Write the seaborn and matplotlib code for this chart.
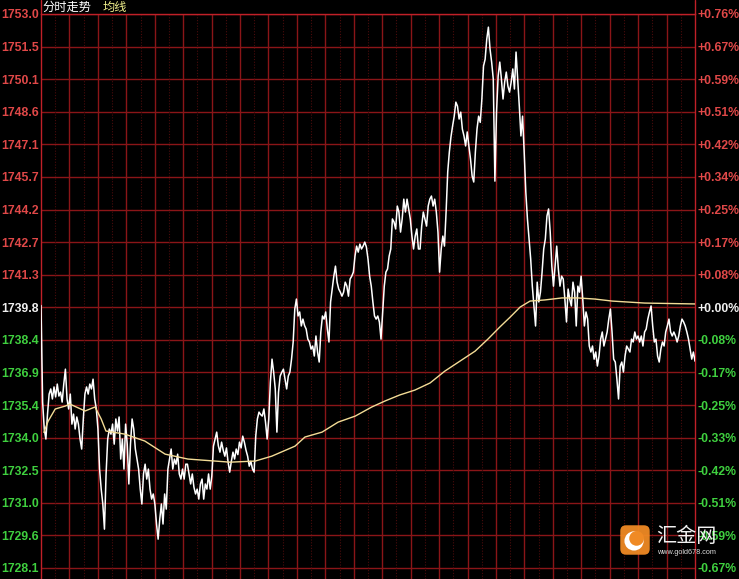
import numpy as np
import matplotlib
matplotlib.use("Agg")
import matplotlib.pyplot as plt
import seaborn as sns
from matplotlib.patches import FancyBboxPatch, Circle
from matplotlib.lines import Line2D

# previous close and grid step of the price axis
prev_close = 1739.82
price_step = 1.4645
session_minutes = 1380  # 23 hour trading day

price_labels = ['1753.0', '1751.5', '1750.1', '1748.6', '1747.1', '1745.7', '1744.2',
                '1742.7', '1741.3', '1739.8', '1738.4', '1736.9', '1735.4', '1734.0',
                '1732.5', '1731.0', '1729.6', '1728.1']
pct_labels = ['+0.76%', '+0.67%', '+0.59%', '+0.51%', '+0.42%', '+0.34%', '+0.25%',
              '+0.17%', '+0.08%', '+0.00%', '-0.08%', '-0.17%', '-0.25%', '-0.33%',
              '-0.42%', '-0.51%', '-0.59%', '-0.67%']

price = [
    1739.9, 1735.56, 1734.35, 1733.90, 1735.02, 1735.92, 1736.15, 1735.70, 1736.24,
    1735.79, 1736.37, 1735.83, 1736.01, 1735.56, 1736.37, 1737.04, 1735.70, 1735.25, 1735.92,
    1734.57, 1735.02, 1734.35, 1734.89, 1734.57, 1733.90, 1733.45, 1734.80, 1735.92, 1736.24,
    1735.92, 1736.37, 1736.15, 1736.59, 1735.70, 1735.25, 1734.35, 1732.55, 1731.65, 1730.98,
    1729.85, 1732.33, 1733.90, 1734.35, 1734.12, 1734.57, 1733.67, 1734.80, 1734.26, 1734.89,
    1733.00, 1733.90, 1732.55, 1734.57, 1733.67, 1731.88, 1733.67, 1734.80, 1734.35, 1733.45,
    1733.00, 1732.55, 1731.65, 1730.98, 1732.33, 1732.77, 1732.10, 1732.55, 1731.65, 1731.20,
    1731.43, 1730.98, 1730.08, 1729.40, 1730.30, 1730.98, 1730.08, 1731.43, 1730.75, 1732.55,
    1733.00, 1733.45, 1732.55, 1733.00, 1732.77, 1733.22, 1732.33, 1732.10, 1732.55, 1732.10,
    1732.77, 1732.77, 1732.33, 1731.88, 1732.33, 1731.74, 1731.43, 1731.65, 1731.20, 1731.88,
    1732.10, 1731.20, 1731.88, 1731.65, 1732.33, 1731.65,
    # afternoon
    1732.24, 1733.58, 1733.90, 1734.21, 1733.60, 1733.31, 1733.76, 1733.40, 1733.13, 1733.50,
    1732.86, 1732.41, 1732.90, 1733.31, 1733.00, 1733.45, 1733.20, 1733.76, 1733.50, 1734.03,
    1733.76, 1733.40, 1733.13, 1732.68, 1732.90, 1732.55, 1732.41, 1734.03, 1734.80, 1735.11,
    1735.00, 1734.93, 1735.25, 1734.66, 1733.90, 1734.80, 1736.46, 1737.49, 1736.91, 1736.15,
    1734.21, 1736.01, 1736.73, 1736.90, 1737.04, 1736.59, 1736.15, 1736.73, 1736.91, 1737.49,
    1738.26, 1739.74, 1740.19, 1739.43, 1739.61, 1738.98, 1739.29, 1739.00, 1738.84, 1738.39,
    1738.26, 1737.94, 1738.08, 1737.63, 1738.53, 1737.81, 1737.36, 1738.71, 1739.43, 1739.29,
    1739.61, 1738.84, 1738.26, 1740.06, 1740.64, 1741.22, 1741.67, 1740.95, 1740.64, 1740.50,
    1740.32, 1740.50, 1740.95, 1740.77, 1740.32, 1741.09, 1741.22, 1741.40, 1742.12, 1742.57,
    1742.30, 1742.66, 1742.44, 1742.57, 1742.75, 1742.53, 1741.99, 1741.22, 1740.77, 1740.06,
    1739.43, 1739.29, 1739.43, 1739.16, 1738.39, 1739.61,
    # evening
    1740.77, 1741.40, 1741.54, 1742.12, 1742.44, 1743.79, 1743.65, 1743.34, 1744.37, 1744.10,
    1743.20, 1743.79, 1744.68, 1744.10, 1744.68, 1744.24, 1743.79, 1743.02, 1742.44, 1743.02,
    1743.34, 1742.44, 1742.44, 1743.47, 1744.10, 1743.79, 1743.47, 1744.37, 1744.68, 1744.82,
    1744.37, 1744.68, 1744.10, 1743.20, 1741.40, 1742.44, 1743.02, 1742.57, 1744.10, 1745.90,
    1746.80, 1747.48, 1747.97, 1748.41, 1749.04, 1748.86, 1748.28, 1748.59, 1747.83, 1747.52,
    1747.07, 1747.70, 1747.07, 1746.49, 1745.72, 1745.45, 1746.80, 1747.83, 1748.41, 1748.13,
    1749.18, 1750.66, 1750.97, 1751.87, 1752.41, 1751.43, 1750.84, 1750.08, 1745.49, 1748.59,
    1750.21, 1750.84, 1750.08, 1749.18, 1749.94, 1750.39, 1749.76, 1749.49, 1749.94, 1750.53,
    1749.63, 1751.29, 1750.08, 1748.86, 1747.52, 1748.41, 1746.80, 1745.00, 1743.79, 1742.89,
    1741.99, 1740.77, 1739.88, 1738.98, 1740.95, 1740.06, 1740.50, 1741.40, 1742.44, 1742.89,
    1743.92, 1744.24, 1743.20, 1741.67,
    # night
    1740.77, 1741.67, 1742.57, 1741.54, 1740.77, 1741.22, 1741.09, 1740.19, 1739.16, 1740.64,
    1740.19, 1739.88, 1740.95, 1740.50, 1738.98, 1740.77, 1740.50, 1741.22, 1740.19, 1738.98,
    1739.61, 1739.29, 1738.08, 1737.81, 1738.08, 1737.49, 1737.81, 1737.18, 1737.63, 1738.39,
    1738.71, 1738.08, 1738.39, 1738.71, 1739.29, 1739.74, 1738.71, 1737.49, 1737.36, 1736.59,
    1735.70, 1737.18, 1737.36, 1736.91, 1737.63, 1738.08, 1737.94, 1737.81, 1738.39, 1738.26,
    1738.71, 1738.39, 1738.53, 1738.26, 1738.53, 1738.08, 1738.71, 1738.84, 1739.29, 1739.61,
    1739.88, 1738.98, 1738.26, 1738.39, 1737.63, 1737.36, 1737.94, 1738.26, 1738.08, 1738.71,
    1738.98, 1739.29, 1738.71, 1738.53, 1738.71, 1738.53, 1738.26, 1738.53, 1738.98, 1739.29,
    1739.16, 1738.98, 1738.71, 1738.39, 1737.94, 1737.49, 1737.81, 1737.40,
]

# average price line (均线)
avg_minutes = [6, 15, 30, 51, 61, 93, 114, 127, 137, 177, 219, 262, 310, 399, 452, 487,
               536, 557, 593, 627, 663, 698, 726, 757, 789, 821, 852, 884, 916, 943, 968,
               990, 1011, 1032, 1063, 1099, 1133, 1169, 1205, 1274, 1380]
avg_price = [1734.20, 1734.70, 1735.25, 1735.38, 1735.47, 1735.16, 1735.34, 1734.80, 1734.26,
             1734.12, 1733.81, 1733.22, 1733.00, 1732.86, 1732.91, 1733.13, 1733.58, 1733.99,
             1734.21, 1734.66, 1734.93, 1735.34, 1735.61, 1735.88, 1736.10, 1736.42, 1736.95,
             1737.40, 1737.85, 1738.39, 1738.93, 1739.38, 1739.83, 1740.10, 1740.15, 1740.24,
             1740.24, 1740.19, 1740.10, 1740.01, 1739.97]

grid_red = '#8a1518'
border_red = '#c02028'
up_red = '#e04848'
down_green = '#3fd03f'

sns.set_style("dark")
plt.rcParams['font.family'] = ['Liberation Sans', 'DejaVu Sans']

W, H = 739, 579
fig = plt.figure(figsize=(W / 100, H / 100), dpi=100, facecolor='black')
ax = fig.add_axes([41 / W, 0, 654 / W, 565 / H])
ax.set_facecolor('black')

levels = prev_close + price_step * np.arange(9, -9, -1)
per_px = (levels[0] - levels[-1]) / 554
ax.set_ylim(levels[0] - 565 * per_px, levels[0])
ax.set_xlim(0, session_minutes)

# grid
for lv in levels:
    ax.axhline(lv, color=grid_red, lw=1, zorder=1)
for h in range(1, 23):
    ax.axvline(h * 60, color=grid_red, lw=1, zorder=1)
for h in range(23):
    ax.axvline(h * 60 + 30, color='#4a0c0c', lw=0.8, ls=(0, (1, 1.5)), zorder=1)

t = np.linspace(0, session_minutes, len(price))
sns.lineplot(x=t, y=price, ax=ax, color='white', linewidth=1.1, estimator=None, sort=False, zorder=3)
sns.lineplot(x=avg_minutes, y=avg_price, ax=ax, color='#f3dc96', linewidth=1.0,
             estimator=None, sort=False, zorder=4)

for side in ['top', 'left', 'right']:
    ax.spines[side].set_color(border_red)
    ax.spines[side].set_linewidth(1)
ax.spines['bottom'].set_visible(False)
ax.set_xticks([])
ax.set_xlabel('')
ax.set_ylabel('')

colors = [up_red] * 9 + ['#f0f0f0'] + [down_green] * 8

ax.set_yticks(levels)
ax.set_yticklabels(price_labels)
ax.tick_params(axis='y', length=0, pad=1.5, labelsize=8.8)
for lbl, c in zip(ax.get_yticklabels(), colors):
    lbl.set_color(c)
    lbl.set_fontweight('bold')

ax2 = ax.twinx()
ax2.set_ylim(ax.get_ylim())
ax2.set_yticks(levels)
ax2.set_yticklabels(pct_labels)
ax2.tick_params(axis='y', length=0, pad=2, labelsize=8.8)
for s in ax2.spines.values():
    s.set_visible(False)
for lbl, c in zip(ax2.get_yticklabels(), colors):
    lbl.set_color(c)
    lbl.set_fontweight('bold')

# borders run up through the header row
for xp in (41, 695):
    fig.add_artist(Line2D([xp / W, xp / W], [565 / H, 1], color=border_red, lw=1))

cjk = ['Noto Sans CJK SC', 'DejaVu Sans']
fig.text(42 / W, 1 - 7 / H, '分时走势', color='white', fontsize=8.8, family=cjk, va='center')
fig.text(103 / W, 1 - 7 / H, '均线', color='#f0f08c', fontsize=8.8, family=cjk, va='center')

# watermark logo
logo = fig.add_axes([619 / W, (H - 556) / H, 32 / W, 32 / H])
logo.set_xlim(0, 1)
logo.set_ylim(0, 1)
logo.axis('off')
logo.add_patch(FancyBboxPatch((0.04, 0.04), 0.92, 0.92, boxstyle='round,pad=0,rounding_size=0.18',
                              fc='#f08a24', ec='none', alpha=0.95))
logo.add_patch(Circle((0.47, 0.47), 0.3, fc='white', ec='none'))
logo.add_patch(Circle((0.55, 0.55), 0.23, fc='#f08a24', ec='none'))
fig.text(656 / W, 1 - 537 / H, '汇金网', color='white', fontsize=14.5, family=cjk,
         va='center', alpha=0.95)
fig.text(657 / W, 1 - 552 / H, 'www.gold678.com', color='#dddddd', fontsize=5.2, va='center')

fig.savefig('out.png', dpi=100, facecolor='black')
